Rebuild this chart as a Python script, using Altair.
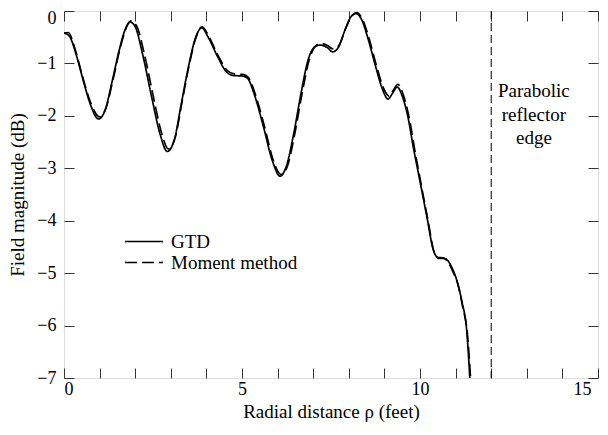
import altair as alt
import pandas as pd

# GTD curve (solid)
gtd_x = [0.0, 0.15, 0.35, 0.55, 0.75, 0.97, 1.15, 1.35, 1.55, 1.72, 1.85, 2.0, 2.2, 2.45, 2.7, 2.9,
         3.1, 3.3, 3.5, 3.7, 3.87, 4.05, 4.3, 4.55, 4.75, 5.0, 5.15, 5.35, 5.6, 5.85, 6.07, 6.25,
         6.45, 6.65, 6.85, 7.05, 7.2, 7.4, 7.55, 7.7, 7.9, 8.05, 8.2, 8.35, 8.55, 8.75, 8.95, 9.1,
         9.22, 9.36, 9.5, 9.67, 9.81, 10.0, 10.2, 10.37, 10.5, 10.65, 10.78, 10.9, 11.03, 11.18,
         11.31, 11.4]
gtd_y = [-0.42, -0.48, -0.85, -1.35, -1.8, -2.06, -1.9, -1.35, -0.75, -0.35, -0.21, -0.3, -0.8,
         -1.6, -2.35, -2.68, -2.45, -1.75, -1.05, -0.5, -0.32, -0.5, -0.85, -1.15, -1.23, -1.24,
         -1.28, -1.6, -2.2, -2.85, -3.15, -2.95, -2.35, -1.6, -0.95, -0.68, -0.65, -0.7, -0.78,
         -0.7, -0.35, -0.12, -0.05, -0.15, -0.55, -1.05, -1.5, -1.68, -1.58, -1.45, -1.62, -2.05,
         -2.59, -3.25, -3.95, -4.55, -4.7, -4.71, -4.76, -4.9, -5.13, -5.55, -6.08, -7.0]

# Moment method curve (dashed)
mm_x = [0.0, 0.12, 0.3, 0.5, 0.75, 1.0, 1.18, 1.38, 1.58, 1.75, 1.88, 2.05, 2.25, 2.5, 2.75, 2.93,
        3.12, 3.32, 3.52, 3.72, 3.88, 4.08, 4.33, 4.58, 4.78, 5.02, 5.18, 5.38, 5.63, 5.88, 6.1,
        6.28, 6.48, 6.68, 6.88, 7.08, 7.22, 7.4, 7.55, 7.72, 7.92, 8.08, 8.22, 8.38, 8.58, 8.78,
        8.98, 9.12, 9.24, 9.38, 9.53, 9.7, 9.84, 10.03, 10.22, 10.4, 10.53, 10.67, 10.8, 10.93,
        11.06, 11.2, 11.33, 11.42]
mm_y = [-0.42, -0.41, -0.7, -1.2, -1.75, -2.02, -1.85, -1.3, -0.7, -0.32, -0.19, -0.3, -0.8,
        -1.6, -2.35, -2.63, -2.42, -1.72, -1.02, -0.48, -0.3, -0.5, -0.85, -1.13, -1.2, -1.21,
        -1.27, -1.6, -2.2, -2.85, -3.12, -2.95, -2.35, -1.6, -0.95, -0.66, -0.62, -0.66, -0.72,
        -0.66, -0.32, -0.1, -0.03, -0.15, -0.55, -1.05, -1.48, -1.62, -1.52, -1.4, -1.6, -2.05,
        -2.6, -3.3, -3.98, -4.6, -4.72, -4.72, -4.8, -4.98, -5.2, -5.65, -6.15, -7.0]

series_names = ["GTD", "Moment method"]
x_ticks = list(range(0, 16))
y_ticks = list(range(-7, 1))
edge_x = 12
annotation = ["Parabolic", "reflector", "edge"]

df = pd.concat([
    pd.DataFrame({"x": gtd_x, "y": gtd_y, "s": series_names[0]}),
    pd.DataFrame({"x": mm_x, "y": mm_y, "s": series_names[1]}),
])

FONT = "Liberation Serif, Times New Roman, DejaVu Serif, serif"
xscale = alt.Scale(domain=[0, 15], nice=False, zero=False)
yscale = alt.Scale(domain=[-7, 0], nice=False, zero=False)

common_axis = dict(domain=False, grid=False, tickSize=10, offset=-10, tickColor="#333",
                   tickWidth=1, labelFont=FONT, labelFontSize=18, labelColor="black",
                   titleFont=FONT, titleFontSize=19, titleFontWeight="normal", titleColor="black")

lines = alt.Chart(df).mark_line(color="black", strokeWidth=1.7, clip=True,
                                interpolate="monotone").encode(
    x=alt.X("x:Q", scale=xscale,
            axis=alt.Axis(orient="bottom", values=x_ticks,
                          labelExpr="datum.value % 5 == 0 ? datum.label : ''",
                          labelOffset={"condition": {"test": "datum.value == 15", "value": -7},
                                       "value": 0},
                          labelPadding=2, title="Radial distance ρ (feet)", titlePadding=4,
                          **common_axis)),
    y=alt.Y("y:Q", scale=yscale,
            axis=alt.Axis(orient="left", values=y_ticks, labelPadding=8,
                          labelOffset={"condition": {"test": "datum.value == 0", "value": 7},
                                       "value": 0},
                          title="Field magnitude (dB)", titlePadding=9, **common_axis)),
    strokeDash=alt.StrokeDash("s:N",
        scale=alt.Scale(domain=series_names, range=[[1, 0], [12, 5]]),
        legend=alt.Legend(title=None, orient="none", legendX=69.5, legendY=220,
                          symbolType="M-2,0H2", symbolSize=361, symbolStrokeWidth=1.5,
                          symbolStrokeColor="black",
                          labelFont=FONT, labelFontSize=19, labelColor="black",
                          labelOffset=16.5, rowPadding=0, padding=0)),
    detail="s:N",
    order=alt.Order("x:Q"),
)

edge_rule = alt.Chart(pd.DataFrame({"e": [edge_x]})).mark_rule(
    color="black", strokeWidth=1, strokeDash=[8, 4]).encode(
    x=alt.X("e:Q", scale=xscale,
            axis=alt.Axis(orient="top", values=x_ticks, labels=False, title=None, **common_axis)),
    y=alt.Y(datum=0, type="quantitative", scale=yscale,
            axis=alt.Axis(orient="right", values=y_ticks, labels=False, title=None, **common_axis)),
    y2=alt.Y2(datum=-7),
)

label = alt.Chart(pd.DataFrame({"t": [annotation]})).mark_text(
    font=FONT, fontSize=19, color="black", align="center", baseline="middle", lineHeight=23.5
).encode(
    x=alt.X(datum=13.2, type="quantitative", scale=xscale, axis=None),
    y=alt.Y(datum=-1.53, type="quantitative", scale=yscale, axis=None),
    text="t",
)

chart = alt.layer(lines, edge_rule, label).resolve_axis(
    x="independent", y="independent"
).properties(
    width=534, height=367,
    autosize=alt.AutoSizeParams(type="none"),
    padding={"left": 56, "top": 3, "right": 2, "bottom": 45},
).configure_view(stroke="#111", strokeWidth=1.2).configure(background="white")

chart.save("out.html", embed_options={"renderer": "svg", "actions": False})
